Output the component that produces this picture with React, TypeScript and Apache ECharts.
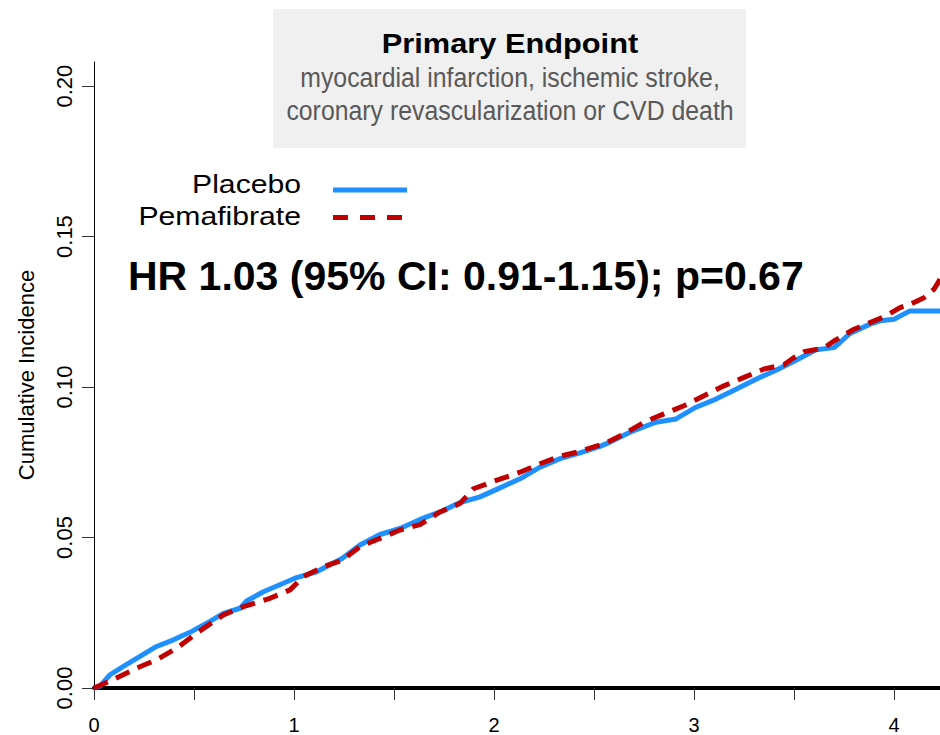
import React, { useEffect, useRef } from "react";
import * as echarts from "echarts";

// Axis ticks and labels
const yearTicks = [0, 0.5, 1, 1.5, 2, 2.5, 3, 3.5, 4];
const yearLabels = [0, 1, 2, 3, 4];
const incidenceTicks = [0, 0.05, 0.1, 0.15, 0.2];

// Cumulative incidence curves (time in years)
const placeboTime = [
  0, 0.03, 0.08, 0.147, 0.23, 0.313, 0.397, 0.48, 0.563, 0.647, 0.73, 0.763, 0.847, 0.947, 1.013,
  1.113, 1.24, 1.33, 1.43, 1.53, 1.63, 1.73, 1.83, 1.93, 2.03, 2.13, 2.23, 2.33, 2.43, 2.53, 2.58,
  2.68, 2.81, 2.91, 3.01, 3.11, 3.21, 3.31, 3.41, 3.51, 3.61, 3.7, 3.73, 3.78, 3.88, 3.93, 4.0, 4.08,
  4.23,
];
const placeboIncidence = [
  0, 0.0006, 0.0044, 0.0072, 0.0105, 0.0138, 0.016, 0.0185, 0.0215, 0.0248, 0.0265, 0.0289, 0.032,
  0.0348, 0.0367, 0.0386, 0.043, 0.0475, 0.051, 0.053, 0.056, 0.0585, 0.0616, 0.0635, 0.0665, 0.0695,
  0.0734, 0.0762, 0.0781, 0.0803, 0.0817, 0.085, 0.0883, 0.0894, 0.0933, 0.096, 0.0993, 0.1026,
  0.1056, 0.1089, 0.1124, 0.1131, 0.1148, 0.1178, 0.1209, 0.122, 0.1225, 0.1253, 0.1253,
];

const pemaTime = [
  0, 0.097, 0.213, 0.313, 0.413, 0.513, 0.647, 0.747, 0.88, 0.98, 1.047, 1.147, 1.24, 1.33, 1.43,
  1.53, 1.63, 1.73, 1.83, 1.897, 2.0, 2.13, 2.23, 2.33, 2.43, 2.5, 2.55, 2.65, 2.75, 2.85, 2.95, 3.05,
  3.15, 3.25, 3.35, 3.45, 3.5, 3.55, 3.65, 3.7, 3.8, 3.88, 3.96, 4.03, 4.08, 4.15, 4.2, 4.23,
];
const pemaIncidence = [
  0, 0.0028, 0.0066, 0.0094, 0.0132, 0.0182, 0.0243, 0.027, 0.0298, 0.0326, 0.037, 0.0403, 0.0424,
  0.047, 0.0497, 0.0525, 0.0543, 0.0585, 0.0613, 0.0662, 0.0687, 0.0717, 0.0745, 0.077, 0.0786,
  0.0801, 0.0811, 0.0844, 0.0883, 0.0911, 0.0938, 0.0971, 0.1004, 0.1032, 0.106, 0.1074, 0.1098,
  0.1117, 0.113, 0.1153, 0.1192, 0.1214, 0.1236, 0.1264, 0.1275, 0.1297, 0.1325, 0.1358,
];

const seriesNames = ["Placebo", "Pemafibrate"];
const titleText = "Primary Endpoint";
const subtitleLines = [
  "myocardial infarction, ischemic stroke,",
  "coronary revascularization or CVD death",
];
const hrText = "HR 1.03 (95% CI: 0.91-1.15); p=0.67";
const yAxisName = "Cumulative Incidence";

const FONT = "'Liberation Sans', Arial, Helvetica, sans-serif";
const BLUE = "#1e90ff";
const RED = "#c00000";

function zip(xs: number[], ys: number[]) {
  return xs.map((x, i) => [x, ys[i]]);
}

export default function App() {
  const ref = useRef<HTMLDivElement>(null);

  useEffect(() => {
    if (!ref.current) return;
    const chart = echarts.init(ref.current, undefined, { renderer: "svg" });

    const option: any = {
      animation: false,
      backgroundColor: "#ffffff",
      grid: { left: 94, right: 0, top: 62, bottom: 45 },
      xAxis: {
        type: "value",
        min: 0,
        max: 4.23,
        axisLine: { show: true, onZero: false, lineStyle: { color: "#000", width: 4 } },
        axisTick: {
          show: true,
          customValues: yearTicks,
          length: 12,
          lineStyle: { color: "#333", width: 1 },
        },
        axisLabel: {
          customValues: yearLabels,
          fontSize: 20,
          fontFamily: FONT,
          color: "#000",
          margin: 27,
        },
        splitLine: { show: false },
      },
      yAxis: {
        type: "value",
        min: 0,
        max: 0.208,
        name: yAxisName,
        nameLocation: "middle",
        nameRotate: 90,
        nameGap: 57,
        nameTextStyle: { fontSize: 22, fontFamily: FONT, color: "#000" },
        axisLine: { show: true, onZero: false, lineStyle: { color: "#000", width: 1 } },
        axisTick: {
          show: true,
          customValues: incidenceTicks,
          length: 12,
          lineStyle: { color: "#333", width: 1 },
        },
        axisLabel: {
          customValues: incidenceTicks,
          rotate: 90,
          fontSize: 22,
          fontFamily: FONT,
          color: "#000",
          margin: 19,
          formatter: (v: number) => v.toFixed(2),
        },
        splitLine: { show: false },
      },
      series: [
        {
          name: seriesNames[0],
          type: "line",
          data: zip(placeboTime, placeboIncidence),
          showSymbol: false,
          symbol: "none",
          lineStyle: { color: BLUE, width: 5 },
          z: 3,
        },
        {
          name: seriesNames[1],
          type: "line",
          data: zip(pemaTime, pemaIncidence),
          showSymbol: false,
          symbol: "none",
          lineStyle: { color: RED, width: 5, type: [15, 9] },
          z: 4,
        },
      ],
      graphic: [
        {
          type: "rect",
          shape: { x: 273, y: 9, width: 473, height: 139 },
          style: { fill: "#f0f0f0" },
          z: 1,
        },
        {
          type: "text",
          x: 510,
          y: 44,
          scaleX: 1.14,
          z: 2,
          style: {
            text: titleText,
            fontFamily: FONT,
            fontSize: 27,
            fontWeight: "bold",
            fill: "#000",
            align: "center",
            verticalAlign: "middle",
          },
        },
        ...subtitleLines.map((line, i) => ({
          type: "text",
          x: 510,
          y: 77.3 + i * 33.3,
          scaleX: 0.92,
          z: 2,
          style: {
            text: line,
            fontFamily: FONT,
            fontSize: 27,
            fill: "#595959",
            align: "center",
            verticalAlign: "middle",
          },
        })),
        ...seriesNames.map((name, i) => ({
          type: "text",
          x: 301,
          y: 184.3 + i * 31.7,
          scaleX: 1.16,
          z: 2,
          style: {
            text: name,
            fontFamily: FONT,
            fontSize: 26,
            fill: "#000",
            align: "right",
            verticalAlign: "middle",
          },
        })),
        {
          type: "line",
          shape: { x1: 333, y1: 190, x2: 407, y2: 190 },
          style: { stroke: BLUE, lineWidth: 5 },
          z: 2,
        },
        {
          type: "line",
          shape: { x1: 333, y1: 217.5, x2: 404, y2: 217.5 },
          style: { stroke: RED, lineWidth: 5, lineDash: [15, 12] },
          z: 2,
        },
        {
          type: "text",
          x: 128,
          y: 275.5,
          z: 2,
          style: {
            text: hrText,
            fontFamily: FONT,
            fontSize: 41,
            fontWeight: "bold",
            fill: "#000",
            align: "left",
            verticalAlign: "middle",
          },
        },
      ],
    };

    chart.setOption(option);
    return () => chart.dispose();
  }, []);

  return (
    <div
      ref={ref}
      style={{ position: "fixed", left: 0, top: 0, width: 940, height: 735, background: "#fff" }}
    />
  );
}
